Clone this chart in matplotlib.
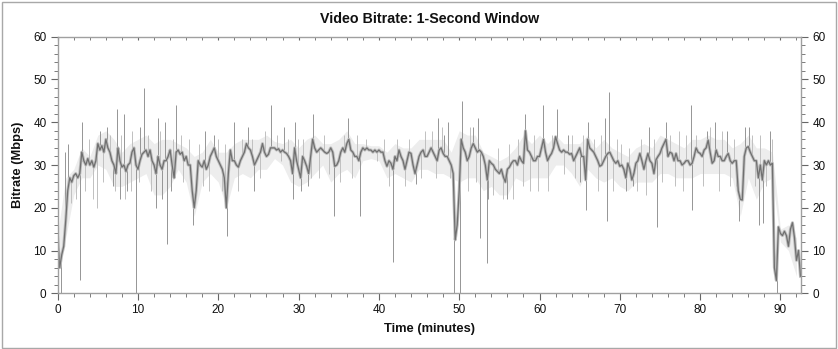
import numpy as np
import matplotlib
matplotlib.use("Agg")
import matplotlib.pyplot as plt
from matplotlib.patches import Rectangle
from matplotlib.ticker import MultipleLocator

plt.rcParams['font.family'] = ['Liberation Sans', 'DejaVu Sans']

bitrate = [
    13, 6, 9, 11, 17, 24, 27, 26, 27.5, 28, 27, 28,            # 0 - 2.75
    33, 31, 30, 31.5, 30, 31, 29.5, 31,                        # 3 - 4.75
    35, 33.5, 34.5, 33, 36, 34, 33, 31, 30, 28, 34, 31,        # 5 - 7.75
    29.5, 30, 28.5, 30, 30.5, 33, 34, 30,                      # 8 - 9.75
    29, 31, 32.5, 33, 33.5, 32, 33.5, 31, 30, 28, 32, 30,      # 10 - 12.75
    29, 31, 31, 32, 33.5, 30, 27, 33, 33.5, 32.5, 33, 31,      # 13 - 15.75
    32, 30, 30, 24, 20, 24, 31, 30, 29.5, 31, 29, 30,          # 16 - 18.75
    32, 33, 34, 32, 31, 30, 29, 27, 20, 28, 33.5, 31,          # 19 - 21.75
    31, 30, 29.5, 31, 32, 33, 35, 34, 33.5, 32, 30, 31,        # 22 - 24.75
    32, 33, 35, 33, 32, 32.5, 34, 34, 34, 33.5, 33.8, 33,      # 25 - 27.75
    33.5, 33, 32.7, 32, 31, 28, 34, 31, 29, 27, 32, 31,        # 28 - 30.75
    29.7, 28, 32, 36, 34, 33, 33.5, 34, 33.5, 33, 32.7, 33,    # 31 - 33.75
    34, 33, 29.7, 30, 31, 33, 34, 33, 35, 36, 33.5, 33,        # 34 - 36.75
    32, 32, 31, 33, 34, 33.5, 34, 33.5, 33.5, 33, 33.5, 33,    # 37 - 39.75
    33.5, 33, 33, 31, 29.7, 31, 30.4, 29, 32, 31, 33.5, 32,    # 40 - 42.75
    31, 29, 31, 33, 32.7, 30, 28, 30, 32, 33, 33.5, 32,        # 43 - 45.75
    32, 33, 34, 33, 32, 31, 33.5, 34, 32.7, 32, 32, 31,        # 46 - 48.75
    30, 28, 12.5, 16, 24, 36, 34, 33, 31, 32, 34, 35,          # 49 - 51.75
    34, 33, 33.5, 33, 32, 30, 26.5, 31, 30.4, 30, 29, 28.5,    # 52 - 54.75
    28, 29, 27.2, 26, 29, 29.5, 30.4, 31, 31, 30, 32, 31,      # 55 - 57.75
    30.4, 38, 33.5, 33, 32, 31, 31, 32, 32, 34, 36, 33,        # 58 - 60.75
    31, 32, 32.7, 34, 36.6, 35, 33.5, 33, 33.5, 33, 33, 32.5,  # 61 - 63.75
    32.7, 31, 32, 33, 34, 32, 32, 26.5, 36, 34, 33.5, 33,      # 64 - 66.75
    32, 31, 29.7, 30, 31, 32, 32.7, 33, 32, 31, 30.4, 31,      # 67 - 69.75
    29.7, 30, 29, 27, 30.4, 29, 26.5, 28, 30.4, 31, 32.7, 31,  # 70 - 72.75
    29, 31, 32.7, 31, 30.4, 28, 31.2, 32, 32.7, 34, 35, 36,    # 73 - 75.75
    32, 33, 32.7, 31, 32.7, 31, 31, 30, 30.4, 31, 31, 30,      # 76 - 78.75
    30.4, 32, 34, 33, 32.7, 32, 33.5, 34, 35.8, 33, 30.4, 31,  # 79 - 81.75
    33.5, 32, 32, 31, 31, 32, 32.7, 31, 30.4, 31, 31, 24,      # 82 - 84.75
    22, 21.8, 32, 34, 34.3, 33, 32, 31, 31, 27, 30, 26.5,      # 85 - 87.75
    31, 30, 31, 30, 30.4, 6, 3, 15.5, 14, 13.5, 14.5, 13.5,    # 88 - 90.75
    11, 15, 16.5, 13, 7.7, 10, 4,                              # 91 - 92.5
]
step_min = 0.25

# Light-grey spread of the one-second samples, per whole minute (0..92)
band_low = [6, 13, 23, 27, 27, 30, 29, 25, 25, 26,
            27, 28, 23, 23, 25, 29, 26, 18, 26, 28,
            26, 20, 27, 28, 27, 29, 29, 31.5, 30, 26,
            25, 26, 28, 30, 26, 28, 29, 27, 31, 31.5,
            31, 27, 28, 27, 26, 29, 29, 28, 28, 27,
            26, 27, 27, 24, 25, 23, 23, 27, 26, 27,
            27, 27, 30, 30, 28, 25, 29, 27, 26, 27,
            25, 24, 26, 26, 26, 28, 28, 27, 27, 27,
            28, 28, 28, 28, 27, 18, 27, 22, 26, 27,
            12, 10, 4]
band_high = [14, 27, 29, 34, 32, 37, 38, 36, 33, 35,
             36, 37, 35, 36, 36, 35, 34, 32, 33, 36,
             33, 33, 35, 36, 36, 36, 37, 35.5, 35, 36,
             34, 36, 37, 35, 35, 36, 38, 35, 35, 34.5,
             34.5, 33, 35, 34, 34, 36, 36, 36, 36, 33,
             38, 37, 37, 33, 32, 31, 32, 34, 37, 35,
             37, 35, 37, 35, 35, 35, 37, 34, 36, 34,
             33, 32, 34, 35, 34, 37, 36, 35, 34, 36,
             36, 37, 36, 36, 34, 35, 37, 34, 34, 33,
             15, 16, 13]

# Isolated one-second spikes (time in minutes, Mbps)
spike_t = [0.4, 0.85, 1.3, 2.8, 3.05, 5.3, 6.2, 6.9, 7.4, 7.8, 8.2, 8.6, 9.8,
           10.3, 10.8, 12.2, 12.5, 13.0, 13.3, 13.6, 14.1, 14.7, 16.9, 18.4,
           19.5, 21.1, 21.9, 23.7, 24.5, 26.6, 28.2, 29.3, 29.5, 30.3, 31.2,
           31.8, 34.4, 36.1, 37.6, 41.7, 44.6, 47.3, 48.1, 48.6, 49.3, 50.05,
           50.3, 51.7, 52.3, 52.6, 53.4, 53.55, 55.9, 58.2, 60.4, 62.2, 63.6,
           65.1, 65.8, 66.1, 68.2, 68.4, 68.6, 70.8, 71.6, 73.6, 74.6, 75.7,
           78.9, 79.05, 80.8, 81.9, 83.4, 84.9, 85.6, 86.1, 87.3, 87.8, 88.7,
           89.55]
spike_v = [0, 33, 35, 3, 40, 38, 39, 25, 43, 22, 42, 24, 0,
           39, 48, 20, 41, 22, 40, 11.5, 24, 44, 16, 38,
           37, 13.5, 40, 39, 24, 44, 39, 22, 40, 24, 25,
           42, 18, 41, 18, 7.3, 25.5, 41, 37, 40, 0, 0,
           45, 39, 41, 13, 7, 22, 22, 42, 44, 43, 37,
           26, 19.5, 40, 41, 17, 47, 24, 25, 39, 15.5, 40,
           44, 19.5, 38, 40, 38, 17, 39, 39, 16, 16.5, 38,
           0]

# Fainter short excursions around the main trace (time in minutes, Mbps)
fringe_t = [1.6, 2.3, 3.4, 3.9, 4.4, 4.9, 5.7, 6.5, 7.1, 7.9, 8.4, 9.1, 9.3,
            10.1, 11.3, 11.6, 12.8, 14.3, 15.3, 15.6, 16.4, 17.6, 18.1, 18.9,
            19.9, 20.4, 20.8, 22.4, 22.9, 24.2, 25.2, 25.8, 27.3, 27.8, 28.7,
            29.9, 30.6, 31.5, 32.5, 33.2, 33.8, 35.2, 35.7, 36.7, 37.3, 38.4,
            39.7, 40.6, 41.2, 42.3, 43.3, 43.8, 45.3, 45.8, 46.6, 47.1, 47.8,
            48.9, 51.1, 51.4, 52.1, 54.2, 54.8, 55.4, 56.2, 56.7, 57.3, 57.9,
            58.8, 59.3, 59.8, 61.1, 61.6, 63.1, 64.1, 64.4, 65.4, 66.8, 67.3,
            67.7, 69.1, 69.6, 70.2, 71.2, 72.2, 72.7, 73.2, 74.2, 75.2, 76.3,
            76.9, 77.4, 77.9, 78.3, 79.5, 80.3, 81.2, 82.3, 82.7, 83.7, 84.2,
            84.5, 86.5, 86.8, 87.5, 88.2, 88.9]
fringe_v = [21, 22, 24, 36, 22, 20, 26, 37, 24, 37, 22, 24, 38,
            26, 37, 24, 38, 36, 37, 26, 36, 35, 25, 24,
            36, 24, 35, 24, 36, 36, 27, 38, 37, 31, 36,
            36, 36, 27, 27, 37, 28, 26, 37, 27, 37, 36,
            31, 36, 25, 36, 25, 36, 27, 38, 38, 27, 39,
            27, 24, 39, 26, 23, 34, 22, 35, 22, 36, 25,
            24, 37, 24, 24, 37, 28, 37, 27, 37, 36, 24,
            37, 24, 36, 35, 34, 24, 36, 23, 36, 26, 37,
            25, 38, 24, 37, 37, 25, 39, 24, 38, 25, 36,
            25, 37, 25, 37, 25, 36]

x_ticks = [0, 10, 20, 30, 40, 50, 60, 70, 80, 90]
y_ticks = [0, 10, 20, 30, 40, 50, 60]

base_t = np.arange(len(bitrate)) * step_min
band_t = np.arange(len(band_low)) * 1.0

W, H = 838, 349
fig = plt.figure(figsize=(W / 100, H / 100), dpi=100)
ax = fig.add_axes([57.7 / W, 1 - 293.3 / H, (801.3 - 57.7) / W, (293.3 - 36.7) / H])

ax.fill_between(band_t, band_low, band_high, color="#ededed", lw=0)
fringe_base = np.interp(fringe_t, base_t, bitrate)
ax.vlines(fringe_t, fringe_base, fringe_v, color="#c0c0c0", lw=0.7)
spike_base = np.interp(spike_t, base_t, bitrate)
ax.vlines(spike_t, spike_base, spike_v, color="#959595", lw=0.7)
ax.plot(base_t, bitrate, color="#bdbdbd", lw=2.2, solid_joinstyle="round")
ax.plot(base_t, bitrate, color="#707070", lw=0.9)

ax.set_xlim(0, 92.6)
ax.set_ylim(0, 60)
ax.set_xticks(x_ticks)
ax.set_yticks(y_ticks)
ax.xaxis.set_minor_locator(MultipleLocator(2))
ax.yaxis.set_minor_locator(MultipleLocator(2))

spine_c = "#a0a0a0"
for s in ax.spines.values():
    s.set_color(spine_c)
    s.set_linewidth(1.0)

ax.tick_params(axis="both", which="both", colors="#666666", labelcolor="#111111",
               labelsize=8.5)
ax.tick_params(axis="x", which="major", direction="out", length=5, bottom=True,
               top=False, pad=3)
ax.tick_params(axis="x", which="minor", direction="out", length=3, bottom=True, top=False)
ax.tick_params(axis="y", which="major", direction="out", length=5, left=True,
               right=True, labelleft=True, labelright=True, pad=3)
ax.tick_params(axis="y", which="minor", direction="out", length=3, left=True, right=True)

secx = ax.secondary_xaxis("top")
secx.set_xticks(x_ticks)
secx.xaxis.set_minor_locator(MultipleLocator(2))
secx.tick_params(which="both", direction="in", length=2.5, colors="#666666",
                 labeltop=False)
secx.spines["top"].set_visible(False)

fig.text(429.5 / W, 1 - 19 / H, "Video Bitrate: 1-Second Window", ha="center",
         va="center", fontsize=10.3, fontweight="bold", color="#111111")
fig.text(429.5 / W, 1 - 329 / H, "Time (minutes)", ha="center", va="center",
         fontsize=9.3, fontweight="bold", color="#111111")
fig.text(17.5 / W, 1 - 165 / H, "Bitrate (Mbps)", ha="center", va="center",
         rotation=90, fontsize=9.3, fontweight="bold", color="#111111")

fig.patches.append(Rectangle((1.5 / W, 1.5 / H), (W - 3.5) / W, (H - 3.5) / H,
                             transform=fig.transFigure, fill=False,
                             edgecolor="#a8a8a8", lw=1.0))

fig.savefig("out.png", dpi=100)
